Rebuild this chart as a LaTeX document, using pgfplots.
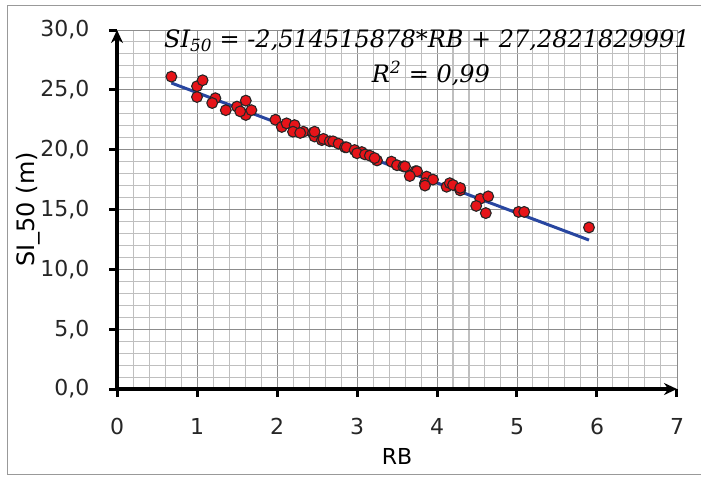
\documentclass[border=0pt]{standalone}
\usepackage{fontspec}
\setmainfont{DejaVu Sans}
\newfontfamily\eqfont{DejaVu Serif}
\usepackage{pgfplots}
\pgfplotsset{compat=1.18}
\usetikzlibrary{arrows.meta}

\definecolor{ptred}{RGB}{230,20,25}
\definecolor{fitblue}{RGB}{40,70,160}

\begin{document}
\begin{tikzpicture}
\begin{axis}[
  at={(117pt,-389pt)}, anchor=south west,
  scale only axis,
  width=560pt, height=359pt,
  xmin=0, xmax=7, ymin=0, ymax=30,
  xtick={0,1,...,7}, ytick={0,5,...,30},
  minor x tick num=4, minor y tick num=4,
  grid=both,
  major grid style={draw=black!45, line width=0.9pt},
  minor grid style={draw=black!25, line width=1pt},
  axis lines=left,
  axis line style={line width=3.4pt, black, -{Stealth[length=13pt,width=12pt]}},
  tick align=outside,
  major tick length=8pt,
  minor tick length=0pt,
  major tick style={line width=3pt, black},
  tick label style={font=\fontsize{22}{24}\selectfont, black!85},
  /pgf/number format/assume math mode=true,
  /pgf/number format/use comma,
  yticklabel={\pgfmathprintnumber[fixed,fixed zerofill,precision=1]{\tick}},
  xticklabel style={yshift=-18pt},
  yticklabel style={xshift=-16pt},
  xlabel={RB}, xlabel style={font=\fontsize{22}{24}\selectfont, yshift=-6pt},
  ylabel={SI\_50 (m)}, ylabel style={font=\fontsize{24}{26}\selectfont, yshift=-7pt},
  clip=false,
]
\addplot[only marks, mark=*, mark size=5.4pt,
  mark options={fill=ptred, draw=black!85, line width=1.1pt}] coordinates {
(0.68,26.1) (1.00,25.3) (1.07,25.8) (1.00,24.4) (1.23,24.3) (1.19,23.9)
(1.36,23.3) (1.50,23.6) (1.61,24.1) (1.61,22.9) (1.54,23.2) (1.68,23.3)
(1.98,22.5) (2.06,21.9) (2.12,22.2) (2.22,22.05) (2.20,21.5) (2.33,21.5)
(2.29,21.4) (2.45,21.4) (2.47,21.1) (2.47,21.5) (2.56,20.8) (2.58,20.9)
(2.66,20.7) (2.70,20.7) (2.77,20.5) (2.85,20.2) (2.87,20.2) (2.97,19.97)
(3.06,19.8) (3.00,19.7) (3.10,19.6) (3.16,19.5) (3.25,19.1) (3.22,19.3)
(3.43,19.0) (3.50,18.7) (3.58,18.6) (3.60,18.6) (3.73,18.2) (3.75,18.2)
(3.66,17.8) (3.87,17.75) (3.85,17.2) (3.95,17.5) (3.85,17.0) (4.12,16.9)
(4.16,17.2) (4.20,17.05) (4.29,16.6) (4.29,16.8) (4.54,15.9) (4.64,16.1)
(4.49,15.3) (4.61,14.7) (5.02,14.8) (5.09,14.8) (5.90,13.5)
};
\addplot[fitblue, line width=3pt] coordinates {(0.68,25.572) (5.9,12.447)};
\end{axis}
\node[font=\eqfont\itshape\fontsize{24}{26}\selectfont] at (427pt,-41pt)
  {SI\textsubscript{50} = -2,514515878*RB + 27,2821829991};
\node[font=\eqfont\itshape\fontsize{24}{26}\selectfont] at (431pt,-73pt)
  {R\textsuperscript{2} = 0,99};
\draw[black!40, line width=1pt] (701pt,-5pt) -- (7pt,-5pt) -- (7pt,-474pt) -- (701pt,-474pt);
\pgfresetboundingbox
\useasboundingbox (0,0) rectangle (701pt,-477pt);
\end{tikzpicture}
\end{document}
